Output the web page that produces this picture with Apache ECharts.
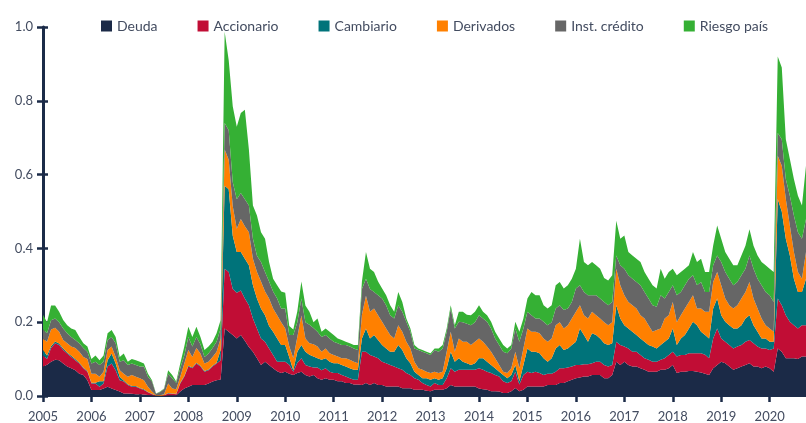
<!DOCTYPE html>
<html>
<head>
<meta charset="utf-8">
<script src="https://cdn.jsdelivr.net/npm/echarts@6/dist/echarts.min.js"></script>
<style>
  html, body { margin: 0; padding: 0; background: #fff; }
  #chart { width: 806px; height: 423px; }
</style>
</head>
<body>
<div id="chart"></div>
<script>
// monthly values, Jan 2005 - Oct 2020, one row per year
const deuda = [
  .08,.085,.093,.098,.097,.088,.08,.075,.07,.06,.057,.043,
  .016,.016,.016,.02,.025,.02,.016,.012,.007,.007,.006,.005,
  .005,.004,.003,.002,0,0,0,.002,.002,.002,.012,.02,
  .025,.03,.03,.03,.03,.034,.039,.043,.045,.183,.174,.165,
  .156,.165,.15,.133,.12,.102,.084,.093,.084,.075,.067,.062,
  .066,.06,.057,.062,.066,.057,.053,.057,.048,.044,.048,.044,
  .044,.04,.04,.035,.035,.031,.031,.03,.035,.03,.035,.03,
  .03,.026,.026,.026,.026,.021,.021,.021,.017,.017,.017,.014,
  .013,.017,.017,.017,.021,.03,.026,.026,.026,.026,.026,.026,
  .02,.018,.017,.013,.013,.012,.008,.008,.013,.022,.013,.017,
  .026,.026,.026,.026,.026,.03,.03,.03,.035,.035,.04,.044,
  .048,.05,.053,.053,.057,.057,.057,.048,.048,.057,.093,.084,
  .093,.084,.08,.08,.075,.071,.066,.066,.066,.071,.071,.075,
  .084,.062,.066,.066,.068,.068,.066,.064,.06,.057,.075,.084,
  .093,.089,.08,.071,.075,.08,.084,.089,.08,.08,.075,.08,
  .075,.066,.129,.12,.102,.102,.102,.10,.107,.107
];
const accionario = [
  .03,.015,.037,.045,.041,.037,.035,.031,.027,.028,.018,.023,
  .018,.018,.009,.014,.055,.068,.054,.031,.032,.023,.019,.02,
  .015,.012,.007,.003,.001,0,.002,.005,.004,.003,.022,.032,
  .055,.045,.058,.05,.036,.036,.041,.045,.052,.162,.162,.125,
  .124,.121,.114,.113,.09,.081,.072,.054,.045,.036,.026,.031,
  .027,.025,.009,.028,.036,.027,.027,.02,.029,.026,.027,.022,
  .018,.022,.017,.018,.013,.013,.013,.09,.085,.081,.072,.072,
  .063,.063,.058,.054,.049,.05,.041,.036,.031,.027,.018,.016,
  .013,.018,.013,.013,.027,.045,.04,.045,.045,.045,.045,.045,
  .055,.053,.049,.049,.044,.041,.032,.027,.027,.044,.018,.04,
  .04,.036,.04,.036,.031,.03,.03,.036,.04,.04,.037,.036,
  .036,.034,.033,.033,.032,.036,.036,.036,.032,.027,.054,.054,
  .041,.045,.04,.04,.036,.031,.032,.027,.027,.027,.031,.036,
  .036,.045,.045,.045,.048,.048,.05,.052,.052,.045,.081,.099,
  .063,.058,.058,.058,.059,.058,.063,.063,.063,.054,.054,.049,
  .05,.063,.135,.126,.117,.099,.09,.083,.085,.085
];
const cambiario = [
  .015,.01,.005,.005,.004,.004,.003,.003,.003,.002,.002,.002,
  .002,.002,.015,.006,.017,.027,.018,.009,.003,.002,.002,.002,
  .002,.002,.001,.001,0,0,0,.001,.001,.001,.002,.002,
  .002,.002,.002,.002,.002,.002,.002,.002,.028,.225,.224,.144,
  .11,.104,.108,.108,.09,.081,.081,.072,.061,.063,.063,.045,
  .045,.02,.004,.03,.036,.036,.032,.03,.025,.028,.027,.027,
  .027,.027,.027,.027,.027,.027,.027,.036,.063,.045,.058,.05,
  .045,.04,.036,.04,.063,.054,.04,.032,.018,.013,.013,.018,
  .018,.013,.014,.018,.027,.045,.027,.031,.022,.018,.013,.018,
  .027,.031,.027,.022,.018,.013,.017,.013,.017,.018,.009,.027,
  .063,.058,.054,.054,.045,.033,.042,.063,.063,.05,.052,.058,
  .063,.099,.079,.061,.081,.072,.063,.059,.058,.059,.099,.072,
  .058,.054,.054,.045,.045,.045,.04,.041,.036,.04,.045,.045,
  .063,.031,.045,.054,.067,.085,.076,.058,.053,.054,.081,.081,
  .063,.054,.054,.054,.049,.054,.063,.067,.049,.04,.027,.027,
  .022,.018,.27,.254,.207,.18,.126,.099,.09,.126
];
const derivados = [
  .03,.037,.045,.037,.032,.023,.025,.025,.03,.03,.029,.032,
  .024,.024,.012,.026,.028,.019,.018,.018,.018,.02,.03,.025,
  .026,.025,.014,.006,.001,.002,.003,.026,.013,.012,.016,.034,
  .043,.029,.04,.033,.02,.021,.024,.03,.031,.098,.08,.081,
  .063,.09,.088,.09,.072,.072,.073,.064,.074,.063,.063,.062,
  .045,.03,.032,.04,.08,.036,.031,.033,.032,.022,.027,.023,
  .022,.018,.018,.022,.023,.022,.018,.064,.089,.072,.072,.067,
  .063,.054,.045,.036,.054,.049,.045,.04,.027,.018,.023,.018,
  .018,.018,.018,.018,.045,.054,.027,.054,.054,.058,.054,.058,
  .054,.045,.041,.036,.027,.018,.009,.014,.018,.036,.035,.045,
  .054,.054,.054,.054,.054,.054,.054,.063,.062,.058,.063,.072,
  .081,.063,.054,.063,.058,.054,.054,.057,.054,.057,.099,.09,
  .081,.072,.072,.072,.063,.063,.054,.04,.05,.045,.063,.063,
  .072,.062,.063,.072,.072,.072,.045,.063,.063,.072,.072,.072,
  .081,.063,.054,.054,.063,.072,.072,.09,.072,.063,.054,.036,
  .036,.027,.117,.124,.108,.081,.072,.054,.036,.072
];
const instCredito = [
  .025,.023,.025,.025,.026,.031,.027,.026,.022,.023,.024,.02,
  .028,.033,.032,.027,.027,.026,.037,.023,.037,.032,.031,.032,
  .032,.037,.027,.027,.004,.009,.014,.026,.028,.018,.023,.022,
  .035,.028,.03,.025,.018,.022,.024,.027,.027,.072,.08,.065,
  .08,.07,.073,.072,.054,.044,.053,.053,.046,.046,.045,.037,
  .054,.03,.063,.04,.046,.044,.05,.044,.04,.04,.036,.04,
  .036,.036,.036,.036,.036,.036,.036,.07,.046,.062,.045,.054,
  .063,.063,.054,.054,.054,.054,.054,.045,.036,.05,.049,.05,
  .049,.059,.058,.063,.054,.063,.063,.045,.053,.049,.054,.053,
  .063,.063,.067,.063,.054,.054,.054,.054,.054,.063,.072,.054,
  .045,.045,.036,.04,.045,.045,.044,.045,.046,.05,.045,.045,
  .063,.054,.063,.063,.045,.054,.054,.055,.054,.055,.036,.054,
  .072,.072,.072,.072,.081,.072,.072,.072,.063,.09,.054,.063,
  .045,.073,.063,.063,.063,.054,.063,.072,.054,.054,.045,.045,
  .063,.072,.072,.063,.063,.063,.063,.072,.081,.081,.09,.09,
  .09,.081,.062,.072,.054,.081,.099,.108,.108,.09
];
const riesgoPais = [
  .04,.03,.04,.035,.028,.023,.022,.023,.027,.017,.013,.014,
  .012,.017,.013,.017,.018,.019,.017,.013,.018,.009,.012,.013,
  .013,.008,.008,.004,.001,.001,.001,.01,.009,.003,.013,.024,
  .028,.026,.028,.02,.019,.019,.017,.023,.023,.247,.19,.205,
  .197,.217,.243,.152,.09,.109,.081,.09,.053,.035,.036,.046,
  .043,.025,.015,.03,.046,.045,.035,.016,.036,.014,.018,.018,
  .018,.013,.014,.009,.009,.009,.013,.02,.072,.055,.054,.037,
  .027,.027,.027,.018,.036,.027,.009,.009,.009,.004,.005,.004,
  .005,.004,.009,.009,.009,.009,.009,.027,.028,.024,.027,.028,
  .027,.018,.018,.018,.018,.018,.018,.013,.009,.018,.027,.027,
  .036,.063,.063,.063,.045,.045,.046,.063,.063,.058,.063,.063,
  .054,.126,.081,.081,.09,.081,.081,.065,.067,.072,.094,.072,
  .09,.063,.063,.063,.063,.054,.054,.054,.049,.072,.054,.054,
  .045,.054,.054,.045,.036,.063,.063,.063,.054,.054,.053,.081,
  .063,.054,.054,.054,.045,.054,.062,.071,.062,.063,.063,.072,
  .072,.081,.207,.194,.108,.099,.099,.099,.09,.144
];

const names = ["Deuda", "Accionario", "Cambiario", "Derivados", "Inst. crédito", "Riesgo país"];
const colors = ["#1b2a47", "#c10d35", "#00737a", "#ff8000", "#666666", "#35b034"];

// month categories 2005-01 .. 2020-10
let months = [];
for (let y = 2005; y <= 2020; y++) {
  for (let m = 1; m <= 12; m++) {
    if (y === 2020 && m > 10) break;
    months.push(y + "-" + (m < 10 ? "0" + m : m));
  }
}

const axisColor = "#1b2b48";
const labelColor = "#434c60";
const font = "Lato, 'Open Sans', sans-serif";

let dom = document.getElementById("chart");
let myChart = echarts.init(dom);

let series = [deuda, accionario, cambiario, derivados, instCredito, riesgoPais].map((d, i) => ({
  name: names[i],
  type: "line",
  stack: "total",
  symbol: "none",
  smooth: false,
  lineStyle: { width: 0 },
  itemStyle: { color: colors[i] },
  areaStyle: { color: colors[i], opacity: 1 },
  emphasis: { disabled: true },
  data: d,
}));

const yearTick = (idx) => idx % 12 === 0;

let option = {
  animation: false,
  legend: {
    data: names,
    left: 96,
    top: 14,
    icon: "rect",
    itemWidth: 11,
    itemHeight: 11,
    itemGap: 40,
    textStyle: { fontSize: 14, color: labelColor, fontFamily: font },
  },
  grid: { left: 43, right: 0, top: 27, bottom: 27 },
  xAxis: [
    {
      type: "category",
      data: months,
      boundaryGap: false,
      axisLine: { lineStyle: { color: axisColor, width: 2 } },
      axisTick: { interval: yearTick, length: 6, lineStyle: { color: axisColor, width: 2.5 } },
      axisLabel: {
        interval: yearTick,
        formatter: (v) => v.slice(0, 4),
        color: labelColor,
        fontSize: 13,
        fontFamily: font,
        margin: 14,
      },
      splitLine: { show: false },
    },
    {
      type: "category",
      data: months,
      position: "bottom",
      boundaryGap: false,
      axisLine: { show: false },
      axisTick: { interval: yearTick, inside: true, length: 3, lineStyle: { color: axisColor, width: 2.5 } },
      axisLabel: { show: false },
    },
  ],
  yAxis: [
    {
      type: "value",
      min: 0,
      max: 1,
      interval: 0.2,
      axisLine: { show: true, lineStyle: { color: axisColor, width: 3 } },
      axisTick: { show: true, length: 6, lineStyle: { color: axisColor, width: 2.5 } },
      axisLabel: {
        formatter: (v) => v.toFixed(1),
        color: labelColor,
        fontSize: 13,
        fontFamily: font,
        margin: 10,
      },
      splitLine: { show: false },
    },
    {
      type: "value",
      position: "left",
      min: 0,
      max: 1,
      interval: 0.2,
      axisLine: { show: false },
      axisTick: { show: true, inside: true, length: 5, lineStyle: { color: axisColor, width: 2.5 } },
      axisLabel: { show: false },
      splitLine: { show: false },
    },
  ],
  series,
};

myChart.setOption(option);
</script>
</body>
</html>
